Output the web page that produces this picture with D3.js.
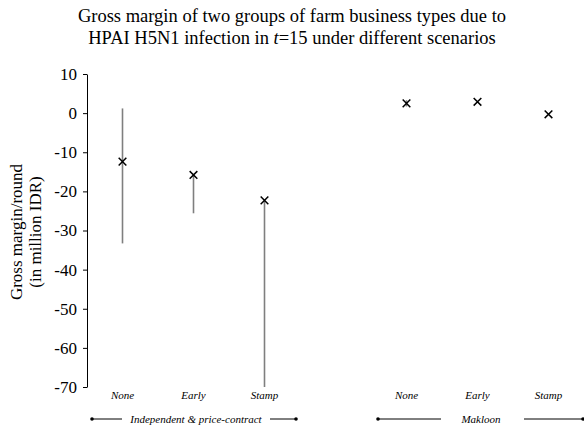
<!DOCTYPE html>
<html lang="en">
<head>
    <meta charset="UTF-8">
    <title>Gross margin by farm business type</title>
    <script src="https://d3js.org/d3.v7.min.js"></script>
    <style>
        body { margin: 0; background: #fff; }
        svg text { font-family: 'Liberation Serif', 'Times New Roman', serif; fill: #000; }
        .errbar { stroke: #7f7f7f; stroke-width: 1.6; }
        .marker { stroke: #000; stroke-width: 1.5; fill: none; }
    </style>
</head>
<body>
<div id="chart"></div>
<script>
    // --- Data ---
    const titleLines = ["Gross margin of two groups of farm business types due to",
                        "HPAI H5N1 infection in |t|=15 under different scenarios"];
    const slots = ["ind-None", "ind-Early", "ind-Stamp", "gap", "mak-None", "mak-Early", "mak-Stamp"];
    const scenarioLabels = ["None", "Early", "Stamp", "None", "Early", "Stamp"];
    const pointSlots = ["ind-None", "ind-Early", "ind-Stamp", "mak-None", "mak-Early", "mak-Stamp"];
    const meanValues = [-12.4, -15.8, -22.3, 2.5, 2.9, -0.3];
    const lowValues  = [-33.3, -25.6, -70, 1.7, 2.9, -0.3];
    const highValues = [1.2, -15.8, -22.3, 3.3, 2.9, -0.3];
    const yTicks = [10, 0, -10, -20, -30, -40, -50, -60, -70];
    const groupNames = ["Independent & price-contract", "Makloon"];

    const width = 584, height = 425;
    const svg = d3.select("#chart").append("svg")
        .attr("width", width).attr("height", height);

    // --- Scales ---
    const x = d3.scaleBand().domain(slots).range([87, 584]).padding(0);
    const y = d3.scaleLinear().domain([-70, 10]).range([387, 74]);
    const cx = s => x(s) + x.bandwidth() / 2;

    // --- Title ---
    const title = svg.append("text").attr("text-anchor", "middle").style("font-size", "18.5px");
    titleLines.forEach((line, i) => {
        const t = title.append("tspan").attr("x", 292).attr("y", 22 + i * 22);
        line.split("|").forEach((part, j) => {
            t.append("tspan").text(part).style("font-style", j === 1 ? "italic" : "normal");
        });
    });

    // --- Y axis (plain hyphen for negatives, like the original) ---
    const yAxis = svg.append("g")
        .attr("transform", "translate(87,0)")
        .call(d3.axisLeft(y).tickValues(yTicks).tickSize(4).tickSizeOuter(0).tickPadding(6)
            .tickFormat(d => String(d)));
    yAxis.select(".domain").attr("stroke", "#000");
    yAxis.selectAll(".tick line").attr("stroke", "#000");
    yAxis.selectAll(".tick text")
        .style("font-size", "17px")
        .style("font-family", "'Liberation Serif', serif")
        .attr("fill", "#000");

    // Y axis title
    const yTitle = svg.append("text")
        .attr("transform", "translate(0,232) rotate(-90)")
        .attr("text-anchor", "middle")
        .style("font-size", "17px");
    yTitle.append("tspan").attr("x", 0).attr("y", 22).text("Gross margin/round");
    yTitle.append("tspan").attr("x", 0).attr("y", 41).text("(in million IDR)");

    // --- Error bars ---
    svg.selectAll(".errbar")
        .data(pointSlots)
        .join("line")
        .attr("class", "errbar")
        .attr("x1", d => cx(d)).attr("x2", d => cx(d))
        .attr("y1", (d, i) => y(highValues[i]))
        .attr("y2", (d, i) => y(lowValues[i]));

    // --- Markers (x symbols) ---
    const sym = d3.symbol().type(d3.symbolX).size(40);
    svg.selectAll(".marker")
        .data(pointSlots)
        .join("path")
        .attr("class", "marker")
        .attr("d", sym)
        .attr("transform", (d, i) => `translate(${cx(d)},${y(meanValues[i])})`);

    // --- Scenario labels ---
    svg.selectAll(".scen")
        .data(pointSlots)
        .join("text")
        .attr("class", "scen")
        .attr("x", d => cx(d))
        .attr("y", 399)
        .attr("text-anchor", "middle")
        .style("font-size", "11px")
        .style("font-style", "italic")
        .text((d, i) => scenarioLabels[i]);

    // --- Group brackets ---
    const groupLines = [
        { name: groupNames[0], left: [92, 122], right: [270, 296], mid: 196 },
        { name: groupNames[1], left: [378, 441], right: [524, 583], mid: 481 }
    ];
    const gy = 419;
    groupLines.forEach(g => {
        [g.left, g.right].forEach(seg => {
            svg.append("line")
                .attr("x1", seg[0]).attr("x2", seg[1])
                .attr("y1", gy).attr("y2", gy)
                .attr("stroke", "#000").attr("stroke-width", 1);
        });
        [g.left[0], g.right[1]].forEach(px => {
            svg.append("circle").attr("cx", px).attr("cy", gy).attr("r", 1.8).attr("fill", "#000");
        });
        svg.append("text")
            .attr("x", g.mid).attr("y", gy + 4)
            .attr("text-anchor", "middle")
            .style("font-size", "11px")
            .style("font-style", "italic")
            .text(g.name);
    });
</script>
</body>
</html>
